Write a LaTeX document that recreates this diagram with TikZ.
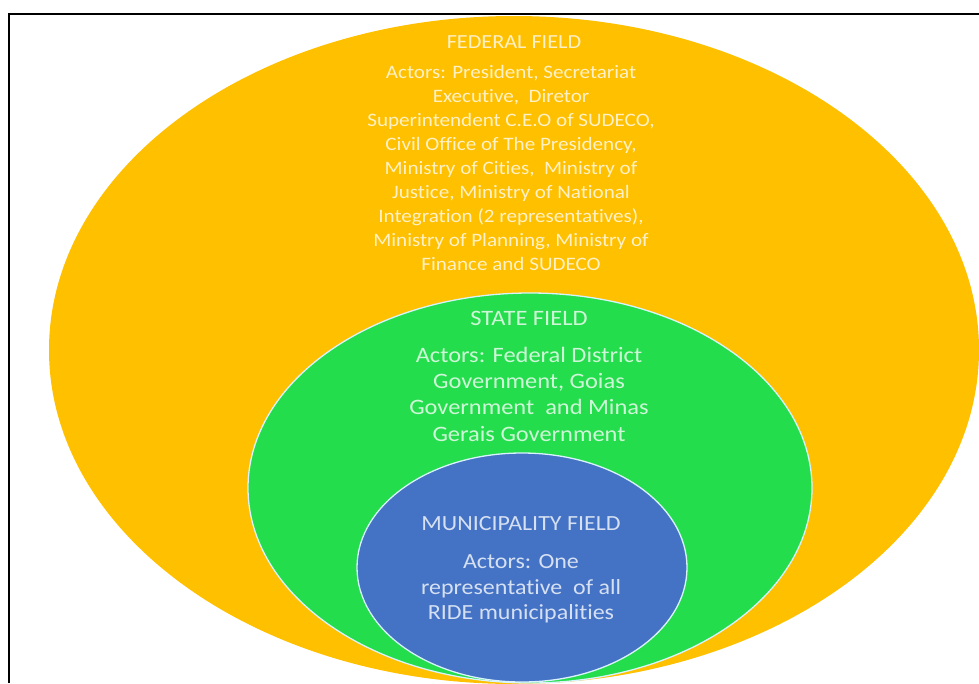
\documentclass[tikz,border=0pt]{standalone}
\usepackage{fontspec}
\setmainfont{Carlito}[FakeStretch=1.11, Ligatures={NoCommon}]
\usetikzlibrary{shapes.geometric}
\definecolor{fedgold}{HTML}{FFC000}
\definecolor{stategreen}{HTML}{24DD4C}
\definecolor{munblue}{HTML}{4472C4}
\tikzset{
  field/.style={ellipse, inner sep=0pt, outer sep=0pt},
  ring/.style={field, draw=white!85!cyan, line width=1.3pt},
  label/.style={align=center, text=white, text opacity=0.78, inner sep=0pt},
  fedtitle/.style={label, font=\fontsize{20}{24}\selectfont},
  fedtext/.style={label, font=\fontsize{19}{24}\selectfont},
  statetext/.style={label, font=\fontsize{22}{26.3}\selectfont},
  muntext/.style={label, font=\fontsize{21.6}{25.5}\selectfont},
}
\begin{document}
\begin{tikzpicture}[x=1pt, y=-1pt]
  \useasboundingbox (0,0) rectangle (979,683);
  \fill[white] (0,0) rectangle (979,683);
  \begin{scope}
    \clip (0,0) rectangle (979,683);
    % nested fields, outer to inner
    \node[field, fill=fedgold, minimum width=930pt, minimum height=668pt] (federal) at (514,350) {};
    \node[ring, fill=stategreen, minimum width=564pt, minimum height=390pt] (state) at (530,488) {};
    \node[ring, fill=munblue, minimum width=330pt, minimum height=229pt] (municipal) at (522,567.5) {};
  \end{scope}
  % frame
  \draw[black, line width=1.2pt] (9,683) -- (9,14) -- (979,14);

  % federal field text
  \node[fedtitle] (fedtitle) at (514,42) {FEDERAL FIELD};
  \node[fedtext] (fedbody) at (511,168) {Actors: President, Secretariat\\
    Executive,\ \ Diretor\\
    Superintendent C.E.O of SUDECO,\\
    Civil Office of The Presidency,\\
    Ministry of Cities,\ \ Ministry of\\
    Justice, Ministry of National\\
    Integration (2 representatives),\\
    Ministry of Planning, Ministry of\\
    Finance and SUDECO};

  % state field text
  \node[statetext] (statetitle) at (529,318) {STATE FIELD};
  \node[statetext] (statebody) at (529,394) {Actors: Federal District\\
    Government, Goias\\
    Government\ \ and Minas\\
    Gerais Government};

  % municipality field text
  \node[muntext] (muntitle) at (521,524) {MUNICIPALITY FIELD};
  \node[muntext] (munbody) at (521,589) {Actors: One\\
    representative\ \ of all\\
    RIDE municipalities};
\end{tikzpicture}
\end{document}
